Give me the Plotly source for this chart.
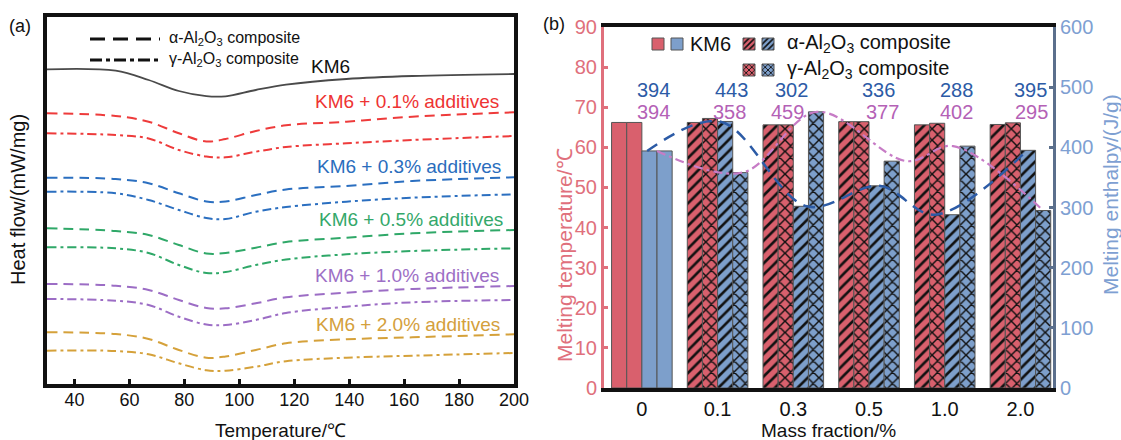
import plotly.graph_objects as go

# ---------------- Panel (a): DSC curves ----------------
temperature = [30, 55, 67, 78, 88, 95, 106, 117, 139, 163, 200]
km6 = [31.47, 31.33, 30.40, 29.30, 28.78, 28.77, 29.40, 29.93, 30.50, 30.80, 31.00]
a01_alpha = [27.07, 26.80, 26.23, 25.07, 24.25, 24.50, 25.30, 25.87, 26.23, 26.73, 27.17]
a01_gamma = [25.07, 24.90, 24.55, 23.40, 22.75, 22.67, 23.23, 23.70, 24.07, 24.40, 24.80]
a03_alpha = [20.63, 20.50, 20.07, 19.07, 18.25, 18.25, 18.90, 19.45, 19.80, 20.30, 20.67]
a03_gamma = [19.23, 19.07, 18.40, 17.40, 16.60, 16.50, 17.23, 17.70, 18.23, 18.63, 18.97]
a05_alpha = [15.57, 15.30, 14.90, 13.90, 13.05, 13.10, 13.63, 14.20, 14.63, 15.07, 15.40]
a05_gamma = [13.67, 13.57, 13.10, 11.90, 11.10, 11.20, 11.90, 12.45, 12.97, 13.30, 13.57]
a10_alpha = [10.00, 9.83, 9.40, 8.40, 7.60, 7.57, 8.07, 8.67, 9.13, 9.50, 9.80]
a10_gamma = [8.50, 8.33, 7.90, 6.73, 5.95, 5.90, 6.40, 7.10, 7.73, 8.17, 8.40]
a20_alpha = [5.17, 5.00, 4.50, 3.40, 2.63, 2.75, 3.40, 4.07, 4.47, 4.67, 4.97]
a20_gamma = [3.33, 3.30, 2.97, 2.07, 1.37, 1.33, 1.73, 2.28, 2.63, 2.83, 3.10]

curve_labels = ["KM6", "KM6 + 0.1% additives", "KM6 + 0.3% additives",
                "KM6 + 0.5% additives", "KM6 + 1.0% additives", "KM6 + 2.0% additives"]

# ---------------- Panel (b): bars ----------------
mass_fraction = ["0", "0.1", "0.3", "0.5", "1.0", "2.0"]
tm_alpha = [66.2, 66.2, 65.6, 66.4, 65.6, 65.7]
tm_gamma = [66.2, 67.2, 65.6, 66.4, 66.0, 66.1]
dh_alpha = [394, 443, 302, 336, 288, 395]
dh_gamma = [394, 358, 459, 377, 402, 295]

# ---------------- styles / positions ----------------
W, H = 1121, 440
FONT = "Liberation Sans, Arial, sans-serif"
RED_BAR = "#d9606d"
BLUE_BAR = "#7d9fcb"
LEFT_COL = "#e0707c"
RIGHT_LAB = "#7ea0d2"
RIGHT_LINE = "#5b6f8c"
LAB_BLUE = "#2c5ba6"
LAB_PURPLE = "#b461b6"

def px_x(p):
    return p / W

def px_y(p):
    return (H - p) / H

fig = go.Figure()

curve_series = [km6, a01_alpha, a01_gamma, a03_alpha, a03_gamma, a05_alpha, a05_gamma,
                a10_alpha, a10_gamma, a20_alpha, a20_gamma]
curve_colors = ["#4a4a4a", "#ee3b3b", "#ee3b3b", "#2b6fc0", "#2b6fc0", "#2fa868", "#2fa868",
                "#9c6dc5", "#9c6dc5", "#d5a13a", "#d5a13a"]
DASH = "10px,6px"
DASHDOT = "9px,4px,3px,4px"
curve_dash = ["solid"] + [DASH, DASHDOT] * 5
curve_width = [1.8] + [2.0] * 10

for ys, c, d, w in zip(curve_series, curve_colors, curve_dash, curve_width):
    fig.add_trace(go.Scatter(x=temperature, y=ys, mode="lines", xaxis="x", yaxis="y",
                             line=dict(color=c, dash=d, width=w, shape="spline", smoothing=1.0),
                             showlegend=False, hoverinfo="skip"))

label_colors = ["#111111", "#ee3333", "#2a6dbd", "#34a86a", "#9d6fc6", "#d4a03c"]
label_pos = [(133.3, 31.8), (161, 28.3), (161.7, 21.8), (162.4, 16.5), (161, 10.9), (161.5, 6.0)]

annotations = []
for t, c, (lx, ly) in zip(curve_labels, label_colors, label_pos):
    annotations.append(dict(x=lx, y=ly, xref="x", yref="y", text=t, showarrow=False,
                            font=dict(family=FONT, size=19, color=c), xanchor="center", yanchor="middle"))

# ---------------- Panel (b) traces ----------------
idx = list(range(len(mass_fraction)))
shape_alpha = [""] + ["/"] * (len(idx) - 1)
shape_gamma = [""] + ["x"] * (len(idx) - 1)
bar_line = dict(color="#555555", width=1)

bar_specs = [
    (tm_alpha, "y2", RED_BAR, shape_alpha, -0.4),
    (tm_gamma, "y2", RED_BAR, shape_gamma, -0.2),
    (dh_alpha, "y3", BLUE_BAR, shape_alpha, 0.0),
    (dh_gamma, "y3", BLUE_BAR, shape_gamma, 0.2),
]
for vals, ya, col, shp, off in bar_specs:
    fig.add_trace(go.Bar(x=idx, y=vals, xaxis="x2", yaxis=ya, offset=off, width=0.2,
                         marker=dict(color=col, line=bar_line,
                                     pattern=dict(shape=shp, fgcolor="#111111", bgcolor=col,
                                                  fillmode="replace", size=8, solidity=0.33)),
                         showlegend=False, hoverinfo="skip"))

alpha_line_off = [0.07, 1.03, 2.18, 3.14, 3.87, 5.09]
gamma_line_off = [0.20, 1.33, 2.31, 3.50, 4.11, 5.30]
fig.add_trace(go.Scatter(x=alpha_line_off, y=dh_alpha, xaxis="x2", yaxis="y3", mode="lines",
                         line=dict(color=LAB_BLUE, dash="12px,8px", width=2.5, shape="spline", smoothing=1.0),
                         showlegend=False, hoverinfo="skip"))
fig.add_trace(go.Scatter(x=gamma_line_off, y=dh_gamma, xaxis="x2", yaxis="y3", mode="lines",
                         line=dict(color="#c77cc6", dash="9px,4px,3px,4px", width=2.2, shape="spline", smoothing=1.0),
                         showlegend=False, hoverinfo="skip"))

alpha_label_x = [0.15, 1.18, 1.97, 3.12, 4.15, 5.13]
gamma_label_x = [0.16, 1.16, 1.92, 3.18, 4.15, 5.15]
for xv, v in zip(alpha_label_x, dh_alpha):
    annotations.append(dict(x=xv, y=495, xref="x2", yref="y3", text=str(v), showarrow=False,
                            xanchor="center", yanchor="middle",
                            font=dict(family=FONT, size=20, color=LAB_BLUE)))
for xv, v in zip(gamma_label_x, dh_gamma):
    annotations.append(dict(x=xv, y=458, xref="x2", yref="y3", text=str(v), showarrow=False,
                            xanchor="center", yanchor="middle",
                            font=dict(family=FONT, size=20, color=LAB_PURPLE)))

# legend swatches (one legend each so they can sit side by side)
legend_specs = [
    ("legend", RED_BAR, "", 658, 44),
    ("legend2", BLUE_BAR, "", 677, 44),
    ("legend3", RED_BAR, "/", 749, 44),
    ("legend4", BLUE_BAR, "/", 768, 44),
    ("legend5", RED_BAR, "x", 749, 70),
    ("legend6", BLUE_BAR, "x", 768, 70),
]
legend_layout = {}
for lg, col, shp, cx, cy in legend_specs:
    fig.add_trace(go.Bar(x=[None], y=[None], xaxis="x2", yaxis="y2", name="", legend=lg,
                         marker=dict(color=col, line=bar_line,
                                     pattern=dict(shape=shp, fgcolor="#111111", bgcolor=col,
                                                  fillmode="replace", size=5, solidity=0.4)),
                         showlegend=True))
    legend_layout[lg] = dict(x=px_x(cx - 20), y=px_y(cy), xanchor="left", yanchor="middle",
                             bgcolor="rgba(0,0,0,0)", borderwidth=0, font=dict(size=10),
                             itemwidth=30, orientation="v")

leg_text = [("KM6", 688, 44), ("α-Al<sub>2</sub>O<sub>3</sub> composite", 785, 44),
            ("γ-Al<sub>2</sub>O<sub>3</sub> composite", 785, 70)]
for t, lx, ly in leg_text:
    annotations.append(dict(x=px_x(lx), y=px_y(ly), xref="paper", yref="paper", text=t, showarrow=False,
                            xanchor="left", yanchor="middle", font=dict(family=FONT, size=20, color="#111111")))

# panel (a) legend
shapes = [
    dict(type="line", xref="paper", yref="paper", x0=px_x(90), x1=px_x(160), y0=px_y(39), y1=px_y(39),
         line=dict(color="#111111", width=3, dash="15px,8px")),
    dict(type="line", xref="paper", yref="paper", x0=px_x(90), x1=px_x(160), y0=px_y(60), y1=px_y(60),
         line=dict(color="#111111", width=3, dash="12px,4px,4px,4px")),
]
annotations.append(dict(x=px_x(167), y=px_y(39), xref="paper", yref="paper", xanchor="left", yanchor="middle",
                        text="α-Al<sub>2</sub>O<sub>3</sub> composite", showarrow=False,
                        font=dict(family=FONT, size=16, color="#111111")))
annotations.append(dict(x=px_x(167), y=px_y(60), xref="paper", yref="paper", xanchor="left", yanchor="middle",
                        text="γ-Al<sub>2</sub>O<sub>3</sub> composite", showarrow=False,
                        font=dict(family=FONT, size=16, color="#111111")))

# panel letters and titles
titles = [
    ("(a)", 20, 26, 0, 18, "#111111"),
    ("(b)", 554, 24, 0, 18, "#111111"),
    ("Heat flow/(mW/mg)", 18, 200, -90, 20, "#111111"),
    ("Temperature/℃", 280, 430, 0, 19, "#111111"),
    ("Mass fraction/%", 828, 430, 0, 19, "#111111"),
    ("Melting temperature/℃", 564, 255, -90, 21, LEFT_COL),
    ("Melting enthalpy/(J/g)", 1110, 195, -90, 21, RIGHT_LAB),
]
for t, tx, ty, ang, fs, col in titles:
    annotations.append(dict(x=px_x(tx), y=px_y(ty), xref="paper", yref="paper", text=t, showarrow=False,
                            xanchor="center", yanchor="middle", textangle=ang,
                            font=dict(family=FONT, size=fs, color=col)))

fig.update_layout(
    template="none",
    width=W, height=H, margin=dict(l=0, r=0, t=0, b=0, pad=0, autoexpand=False),
    paper_bgcolor="white", plot_bgcolor="rgba(0,0,0,0)",
    font=dict(family=FONT, color="#111111"),
    barmode="overlay",
    annotations=annotations, shapes=shapes,
    xaxis=dict(domain=[px_x(47), px_x(514)], range=[30, 200], anchor="y", automargin=False,
               tickvals=[40, 60, 80, 100, 120, 140, 160, 180, 200], ticks="inside", ticklen=5, tickwidth=3,
               tickcolor="#111111", showline=True, linewidth=4, linecolor="#111111", mirror=True,
               showgrid=False, zeroline=False, tickfont=dict(size=18, color="#111111"),
               ticklabelstandoff=-4),
    yaxis=dict(domain=[px_y(384), px_y(17)], range=[0, 36.7], anchor="x", showticklabels=False, automargin=False,
               ticks="", showline=True, linewidth=4, linecolor="#111111", mirror=True,
               showgrid=False, zeroline=False),
    xaxis2=dict(domain=[px_x(604), px_x(1053)], range=[-0.5, 5.43], anchor="y2", automargin=False,
                tickvals=idx, ticktext=mass_fraction, ticks="", showline=True, linewidth=4,
                linecolor="#111111", mirror=True, showgrid=False, zeroline=False,
                tickfont=dict(size=20, color="#111111"), ticklabelstandoff=0),
    yaxis2=dict(domain=[px_y(388), px_y(27)], range=[0, 90], dtick=10, anchor="x2", automargin=False,
                ticks="inside", ticklen=4, tickwidth=3, tickcolor=LEFT_COL,
                showline=True, linewidth=3, linecolor=LEFT_COL, showgrid=False, zeroline=False,
                tickfont=dict(size=20, color=LEFT_COL)),
    yaxis3=dict(range=[0, 600], dtick=100, overlaying="y2", side="right", anchor="x2", automargin=False,
                ticks="inside", ticklen=4, tickwidth=3, tickcolor=RIGHT_LINE,
                showline=True, linewidth=3, linecolor=RIGHT_LINE, showgrid=False, zeroline=False,
                tickfont=dict(size=20, color=RIGHT_LAB)),
    **legend_layout,
)

fig.write_html("out.html", config={"displayModeBar": False, "staticPlot": True},
               post_script="document.body.style.margin='0';document.body.style.overflow='hidden';")
